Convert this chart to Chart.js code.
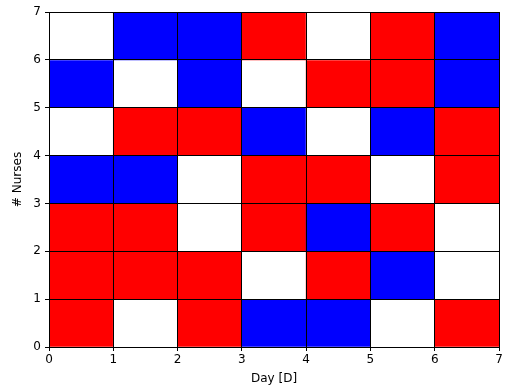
<!DOCTYPE html>
<html>
<head>
<meta charset="utf-8">
<script src="https://cdn.jsdelivr.net/npm/chart.js@4.4.1/dist/chart.umd.min.js"></script>
<style>
  html, body { margin: 0; padding: 0; background: #ffffff; }
</style>
</head>
<body>
<canvas id="roster" width="505" height="390"></canvas>
<script>
// Shift colour per (day, slot); rows listed bottom to top
const days = [0, 1, 2, 3, 4, 5, 6];
const row0 = ['R', 'W', 'R', 'B', 'B', 'W', 'R'];
const row1 = ['R', 'R', 'R', 'W', 'R', 'B', 'W'];
const row2 = ['R', 'R', 'W', 'R', 'B', 'R', 'W'];
const row3 = ['B', 'B', 'W', 'R', 'R', 'W', 'R'];
const row4 = ['W', 'R', 'R', 'B', 'W', 'B', 'R'];
const row5 = ['B', 'W', 'B', 'W', 'R', 'R', 'B'];
const row6 = ['W', 'B', 'B', 'R', 'W', 'R', 'B'];
const rows = [row0, row1, row2, row3, row4, row5, row6];
const axisTicks = [0, 1, 2, 3, 4, 5, 6, 7];

const palette = { R: '#ff0000', B: '#0000ff', W: '#ffffff' };

// one floating bar per cell: x centre of the day, y span of the slot
const cells = [];
const cellColors = [];
rows.forEach((row, r) => {
    row.forEach((code, d) => {
        cells.push({ x: days[d] + 0.5, y: [r, r + 1] });
        cellColors.push(palette[code]);
    });
});

const tickFont = { family: 'DejaVu Sans', size: 12 };

const ctx = document.getElementById('roster').getContext('2d');
new Chart(ctx, {
    type: 'bar',
    data: {
        datasets: [{
            data: cells,
            backgroundColor: cellColors,
            borderWidth: 0,
            barPercentage: 1,
            categoryPercentage: 1,
            grouped: false
        }]
    },
    options: {
        responsive: false,
        animation: false,
        devicePixelRatio: 1,
        layout: { padding: { top: 12, right: 6, left: 0, bottom: 0 } },
        plugins: {
            legend: { display: false },
            tooltip: { enabled: false }
        },
        scales: {
            x: {
                type: 'linear',
                min: axisTicks[0],
                max: axisTicks[axisTicks.length - 1],
                offset: false,
                afterBuildTicks: (scale) => { scale.ticks = axisTicks.map(v => ({ value: v })); },
                afterFit: (scale) => { scale.height = 43; },
                ticks: { color: '#000', font: tickFont, padding: 2, maxRotation: 0 },
                // cell outlines sit above the coloured bars
                grid: { color: '#000', lineWidth: 1, tickLength: 4, offset: false, z: 1 },
                border: { color: '#000', width: 1, z: 2 },
                title: { display: true, text: 'Day [D]', color: '#000', font: tickFont, padding: { top: 0, bottom: 4 } }
            },
            y: {
                type: 'linear',
                min: axisTicks[0],
                max: axisTicks[axisTicks.length - 1],
                afterBuildTicks: (scale) => { scale.ticks = axisTicks.map(v => ({ value: v })); },
                afterFit: (scale) => { scale.width = 49; },
                ticks: { color: '#000', font: tickFont, padding: 4 },
                grid: { color: '#000', lineWidth: 1, tickLength: 4, z: 1 },
                border: { color: '#000', width: 1, z: 2 },
                title: { display: true, text: '# Nurses', color: '#000', font: tickFont, padding: { top: 11, bottom: 0 } }
            }
        }
    }
});
</script>
</body>
</html>
